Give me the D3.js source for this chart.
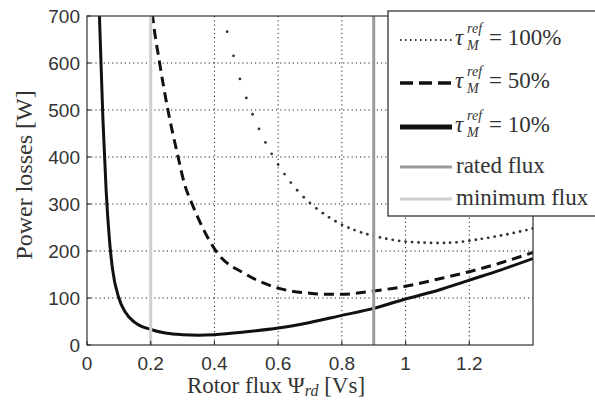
<!DOCTYPE html>
<html><head><meta charset="utf-8">
<script src="https://cdn.jsdelivr.net/npm/d3@7"></script>
<style>body{margin:0;background:#fff}</style>
</head><body><svg id="c" width="595" height="401"></svg>
<script>
// ---- data ----
const xTicks = [0, 0.2, 0.4, 0.6, 0.8, 1, 1.2];
const xTickLabels = ["0", "0.2", "0.4", "0.6", "0.8", "1", "1.2"];
const yTicks = [0, 100, 200, 300, 400, 500, 600, 700];
const yTickLabels = ["0", "100", "200", "300", "400", "500", "600", "700"];

const flux10X = [0.035,0.04,0.05,0.06,0.07,0.08,0.1,0.12,0.15,0.2,0.25,0.3,0.35,0.4,0.5,0.6,0.7,0.8,0.9,1.0,1.1,1.2,1.3,1.4];
const flux10Y = [800,680,480,330,228,162,100,70,48,33,25,22,21,22,28,36,48,63,78,98,116,138,160,184];

const flux50X = [0.2,0.206,0.228,0.254,0.286,0.305,0.33,0.405,0.5,0.6,0.7,0.75,0.8,0.9,1.0,1.1,1.2,1.3,1.4];
const flux50Y = [740,700,600,500,400,345,300,200,150,121,110,108,108,115,125,140,156,175,197];

const flux100X = [0.436,0.46,0.48,0.5,0.55,0.6,0.65,0.7,0.75,0.8,0.85,0.9,0.95,1.0,1.05,1.1,1.15,1.2,1.25,1.3,1.35,1.4];
const flux100Y = [677,615,566,526,445,384,337,302,276,256,242,232,225,220,218,217,218,222,227,233,240,248];

const ratedFlux = 0.9;
const minimumFlux = 0.2;

const legendLabels = ["100%", "50%", "10%", "rated flux", "minimum flux"];

// ---- layout ----
const L = 87, R = 533, T = 16, B = 345;
const svg = d3.select("#c");
const x = d3.scaleLinear().domain([0, 1.4]).range([L, R]);
const y = d3.scaleLinear().domain([0, 700]).range([B, T]);

svg.append("defs").append("clipPath").attr("id", "clip")
  .append("rect").attr("x", L).attr("y", T).attr("width", R - L).attr("height", B - T);

// grid
const grid = svg.append("g").attr("stroke", "#222").attr("stroke-width", 1)
  .attr("stroke-dasharray", "1.2,3");
grid.selectAll("line.v").data(xTicks.filter(d => d > 0)).join("line")
  .attr("x1", d => x(d)).attr("x2", d => x(d)).attr("y1", T).attr("y2", B);
grid.selectAll("line.h").data(yTicks.filter(d => d > 0 && d < 700)).join("line")
  .attr("x1", L).attr("x2", R).attr("y1", d => y(d)).attr("y2", d => y(d));

const plot = svg.append("g").attr("clip-path", "url(#clip)");
const line = d3.line().x(d => x(d[0])).y(d => y(d[1])).curve(d3.curveMonotoneX);

const d10 = flux10X.map((v, i) => [v, flux10Y[i]]);
const d50 = flux50X.map((v, i) => [v, flux50Y[i]]);
const d100 = flux100X.map((v, i) => [v, flux100Y[i]]);

plot.append("path").attr("d", line(d10)).attr("fill", "none")
  .attr("stroke", "#111").attr("stroke-width", 3);
plot.append("path").attr("d", line(d50)).attr("fill", "none")
  .attr("stroke", "#111").attr("stroke-width", 3).attr("stroke-dasharray", "10,6");

// dotted series: markers sampled along the curve at regular x steps
const hidden = svg.append("path").attr("d", line(d100)).attr("fill", "none").attr("stroke", "none");
const node = hidden.node();
const len = node.getTotalLength();
const samples = [];
for (let s = 0; s <= len; s += 0.5) { const p = node.getPointAtLength(s); samples.push(p); }
const dotXs = d3.range(0.44, 1.4001, 0.02);
const dots = dotXs.map(v => {
  const px = x(v);
  let best = samples[0];
  for (const p of samples) if (Math.abs(p.x - px) < Math.abs(best.x - px)) best = p;
  return best;
});
plot.selectAll("circle.dot").data(dots).join("circle")
  .attr("cx", d => d.x).attr("cy", d => d.y).attr("r", 1.4).attr("fill", "#333");
hidden.remove();

// vertical reference lines
svg.append("line").attr("x1", x(minimumFlux)).attr("x2", x(minimumFlux)).attr("y1", T).attr("y2", B)
  .attr("stroke", "#cfcfcf").attr("stroke-width", 3);
svg.append("line").attr("x1", x(ratedFlux)).attr("x2", x(ratedFlux)).attr("y1", T).attr("y2", B)
  .attr("stroke", "#9a9a9a").attr("stroke-width", 3);

// frame
svg.append("rect").attr("x", L).attr("y", T).attr("width", R - L).attr("height", B - T)
  .attr("fill", "none").attr("stroke", "#333").attr("stroke-width", 1.2);

// ticks (inward)
const tk = svg.append("g").attr("stroke", "#333").attr("stroke-width", 1.2);
tk.selectAll("line.xt").data(xTicks).join("line")
  .attr("x1", d => x(d)).attr("x2", d => x(d)).attr("y1", B).attr("y2", B - 4);
tk.selectAll("line.yt").data(yTicks).join("line")
  .attr("x1", L).attr("x2", L + 4).attr("y1", d => y(d)).attr("y2", d => y(d));

// tick labels
const sans = "'Liberation Sans', Arial, sans-serif";
svg.append("g").selectAll("text").data(xTicks).join("text")
  .attr("x", d => x(d)).attr("y", 370).attr("text-anchor", "middle")
  .attr("font-family", sans).attr("font-size", 19).attr("fill", "#333")
  .text((d, i) => xTickLabels[i]);
svg.append("g").selectAll("text").data(yTicks).join("text")
  .attr("x", 80).attr("y", d => y(d) + 7).attr("text-anchor", "end")
  .attr("font-family", sans).attr("font-size", 19).attr("fill", "#333")
  .text((d, i) => yTickLabels[i]);

// axis titles
const serif = "'Liberation Serif', 'Times New Roman', serif";
const xt = svg.append("text").attr("x", 276).attr("y", 393).attr("text-anchor", "middle")
  .attr("font-family", serif).attr("font-size", 23).attr("fill", "#333");
xt.append("tspan").text("Rotor flux Ψ");
xt.append("tspan").attr("font-style", "italic").attr("font-size", 16).attr("dy", 3).text("rd");
xt.append("tspan").attr("dy", -3).text(" [Vs]");

svg.append("text").attr("transform", "translate(32,175) rotate(-90)").attr("text-anchor", "middle")
  .attr("font-family", serif).attr("font-size", 24).attr("fill", "#333")
  .text("Power losses [W]");

// legend
const lg = svg.append("g");
lg.append("rect").attr("x", 388).attr("y", 11).attr("width", 220).attr("height", 205)
  .attr("fill", "#fff").attr("stroke", "#333").attr("stroke-width", 1.3);
const rowsY = [40, 83, 127, 167, 199];
const styles = [
  {stroke: "#333", w: 2, dash: "1.5,3.5"},
  {stroke: "#111", w: 3.5, dash: "13,6"},
  {stroke: "#111", w: 5, dash: null},
  {stroke: "#9a9a9a", w: 3, dash: null},
  {stroke: "#cfcfcf", w: 3, dash: null}
];
styles.forEach((s, i) => {
  lg.append("line").attr("x1", 400).attr("x2", 452).attr("y1", rowsY[i]).attr("y2", rowsY[i])
    .attr("stroke", s.stroke).attr("stroke-width", s.w).attr("stroke-dasharray", s.dash);
});
for (let i = 0; i < 3; i++) {
  const by = rowsY[i] + 5;
  lg.append("text").attr("x", 455).attr("y", by).attr("font-family", serif).attr("font-style", "italic")
    .attr("font-size", 23).attr("fill", "#333").text("τ");
  lg.append("text").attr("x", 467).attr("y", by - 12).attr("font-family", serif).attr("font-style", "italic")
    .attr("font-size", 14).attr("fill", "#333").text("ref");
  lg.append("text").attr("x", 467).attr("y", by + 5).attr("font-family", serif).attr("font-style", "italic")
    .attr("font-size", 14).attr("fill", "#333").text("M");
  lg.append("text").attr("x", 489).attr("y", by).attr("font-family", serif)
    .attr("font-size", 23).attr("fill", "#333").text("= " + legendLabels[i]);
}
for (let i = 3; i < 5; i++) {
  lg.append("text").attr("x", 456).attr("y", rowsY[i] + 6).attr("font-family", serif)
    .attr("font-size", 23).attr("fill", "#333").text(legendLabels[i]);
}
</script></body></html>
